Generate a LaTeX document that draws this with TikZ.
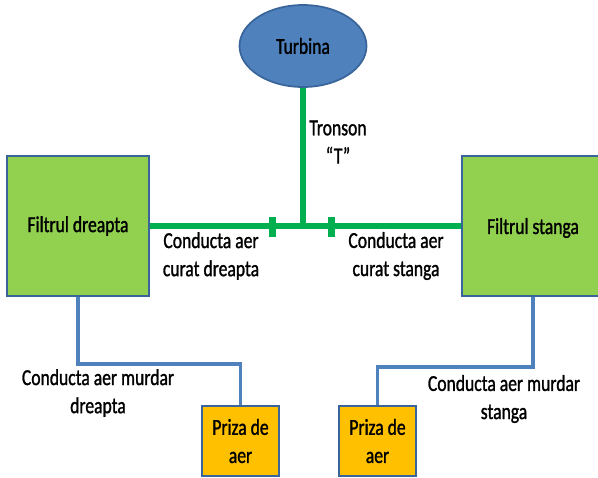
\documentclass[tikz,border=0pt]{standalone}
\usepackage{fontspec}
\setmainfont{Carlito}[FakeStretch=0.77,FakeBold=1.2]
\usetikzlibrary{shapes.geometric}

\definecolor{turbblue}{HTML}{4F81BD}
\definecolor{edgeblue}{HTML}{3A659A}
\definecolor{filtgreen}{HTML}{92D050}
\definecolor{ductgreen}{HTML}{00B050}
\definecolor{prizaorange}{HTML}{FFC000}

\begin{document}
\begin{tikzpicture}[x=0.02cm,y=-0.02cm,font=\fontsize{13}{16}\selectfont]
  \tikzstyle{filtru}=[draw=edgeblue,line width=1.3pt,fill=filtgreen,minimum width=2.84cm,minimum height=2.8cm]
  \tikzstyle{priza}=[draw=edgeblue,line width=1.3pt,fill=prizaorange,minimum width=1.54cm,minimum height=1.4cm,align=center]
  \tikzstyle{curat}=[draw=ductgreen,line width=3.7pt]
  \tikzstyle{murdar}=[draw=turbblue,line width=2.2pt]
  \tikzstyle{tick}=[fill=ductgreen,inner sep=0pt,minimum width=0.14cm,minimum height=0.4cm]
  \tikzstyle{eticheta}=[align=center,inner sep=0pt]

  \useasboundingbox (0,0) rectangle (598,477);

  \node[ellipse,draw=edgeblue,line width=1pt,fill=turbblue,minimum width=2.54cm,minimum height=1.64cm,inner sep=0pt] (turb) at (303,46) {Turbina};
  \node[filtru] (fd) at (78,226) {Filtrul dreapta};
  \node[filtru] (fs) at (533,226) {};
  \node at (533,228) {Filtrul stanga};
  \node[priza] (pd) at (240.5,441) {Priza de\\aer};
  \node[priza] (ps) at (377.5,441) {Priza de\\aer};

  \coordinate (tee) at (303,226);
  \coordinate (kd)  at (78,364);
  \coordinate (ks)  at (533,367);

  \path[curat]
  (turb.south) edge[line width=2.9pt] (tee)
  (fd.east) edge (fs.west);

  \node[tick] (td) at (272,227) {};
  \node[tick] (ts) at (331,227) {};

  \draw[murdar] (fd.south) -- (kd) -| (pd.north);
  \draw[murdar] (fs.south) -- (ks) -| (ps.north);

  \node[eticheta] (tronson) at (338,142) {Tronson\\“T”};
  \node[eticheta] (lcd) at (211,256) {Conducta aer\\curat dreapta};
  \node[eticheta] (lcs) at (396,256) {Conducta aer\\curat stanga};
  \node[eticheta] (lmd) at (98,393) {Conducta aer murdar\\dreapta};
  \node[eticheta] (lms) at (504,399) {Conducta aer murdar\\stanga};
\end{tikzpicture}
\end{document}
